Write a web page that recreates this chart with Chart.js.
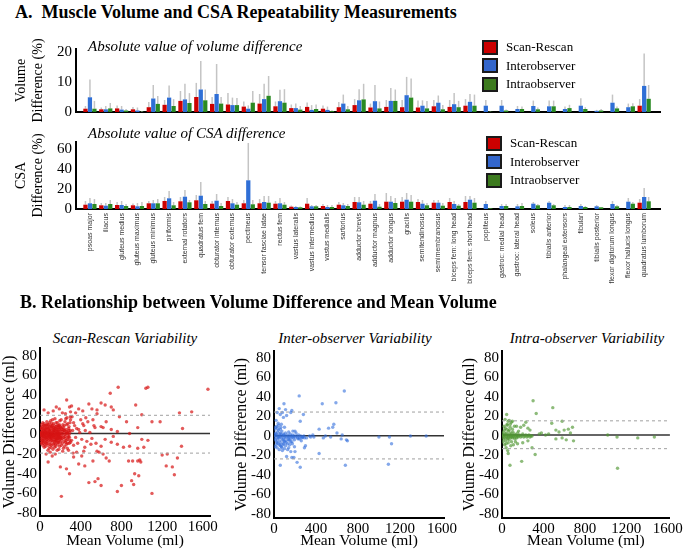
<!DOCTYPE html>
<html>
<head>
<title>Muscle Volume and CSA Repeatability</title>
<style>
    body {
        margin: 0;
        background: #fff;
        font-family: 'Liberation Serif', 'Times New Roman', Times, serif;
        color: #000;
    }
    #page { position: relative; width: 685px; height: 555px; overflow: hidden; }
    .box { position: absolute; }
    .hdr { position: absolute; font-weight: bold; font-size: 18px; line-height: 20px; white-space: nowrap; }
    .sub { position: absolute; font-style: italic; font-size: 15px; line-height: 18px; white-space: nowrap; }
    .legend { position: absolute; font-size: 13px; }
    .legend div { height: 18.6px; display: flex; align-items: center; white-space: nowrap; }
    .legend .sw { width: 12px; height: 11px; border: 2px solid #1a1a1a; margin-right: 8px; }
    .ptitle { position: absolute; font-style: italic; font-size: 15px; line-height: 18px; white-space: nowrap; transform: translateX(-50%); }
</style>
</head>
<body>
<div id="page">
    <div class="hdr" style="left:15px; top:2px;">A.&nbsp; Muscle Volume and CSA Repeatability Measurements</div>

    <div class="box" style="left:0; top:30px;"><canvas id="volChart" width="685" height="95"></canvas></div>
    <div class="box" style="left:0; top:125px;"><canvas id="csaChart" width="685" height="180"></canvas></div>

    <div class="sub" style="left:88px; top:37px;">Absolute value of volume difference</div>
    <div class="sub" style="left:88px; top:124px;">Absolute value of CSA difference</div>

    <div class="legend" style="left:482px; top:38px;">
        <div><span class="sw" style="background:#cc0000"></span>Scan-Rescan</div>
        <div><span class="sw" style="background:#3366cc"></span>Interobserver</div>
        <div><span class="sw" style="background:#3c7a1e"></span>Intraobserver</div>
    </div>
    <div class="legend" style="left:486px; top:134px;">
        <div><span class="sw" style="background:#cc0000"></span>Scan-Rescan</div>
        <div><span class="sw" style="background:#3366cc"></span>Interobserver</div>
        <div><span class="sw" style="background:#3c7a1e"></span>Intraobserver</div>
    </div>

    <div class="hdr" style="left:20px; top:292px;">B. Relationship between Volume Difference and Mean Volume</div>

    <div class="ptitle" style="left:125px; top:329px;">Scan-Rescan Variability</div>
    <div class="ptitle" style="left:355px; top:329px;">Inter-observer Variability</div>
    <div class="ptitle" style="left:587px; top:329px;">Intra-observer Variability</div>

    <div class="box" style="left:0; top:325px;"><canvas id="srChart" width="232" height="230"></canvas></div>
    <div class="box" style="left:232px; top:325px;"><canvas id="interChart" width="228" height="230"></canvas></div>
    <div class="box" style="left:460px; top:325px;"><canvas id="intraChart" width="225" height="230"></canvas></div>
</div>

<script src="https://cdn.jsdelivr.net/npm/chart.js@4.4.1/dist/chart.umd.min.js"></script>
<script>
    // ---- panel A data (percent) ----
    const muscles = ['psoas major', 'iliacus', 'gluteus medius', 'gluteus maximus', 'gluteus minimus',
        'piriformis', 'external rotators', 'quadratus fem', 'obturator internus', 'obturator externus',
        'pectineus', 'tensor fasciae latae', 'rectus fem', 'vastus lateralis', 'vastus intermedius',
        'vastus medialis', 'sartorius', 'adductor brevis', 'adductor magnus', 'adductor longus',
        'gracilis', 'semitendinosus', 'semimembranosus', 'biceps fem: long head', 'biceps fem: short head',
        'popliteus', 'gastroc: medial head', 'gastroc: lateral head', 'soleus', 'tibialis anterior',
        'phalangeal extensors', 'fibulari', 'tibialis posterior', 'flexor digitorum longus',
        'flexor hallucis longus', 'quadratus lumborum'];

    const volScanRescan = [1.1, 0.9, 1.2, 0.9, 1.6, 2.4, 3.7, 5.0, 2.7, 2.5, 1.8, 2.8, 1.9, 1.3, 1.7, 1.1, 1.6, 2.3,
        1.5, 1.7, 1.6, 1.5, 1.9, 1.7, 2.1, null, null, null, null, null, null, null, null, null, null, 2.1];
    const volScanRescanSD = [2, 1.5, 2.2, 1.7, 3.3, 4, 7, 9.7, 5, 6.3, 3.5, 6, 3.5, 2.5, 3.2, 2.2, 3.3, 4.3,
        2.8, 4, 4, 3.8, 4, 4, 4.3, null, null, null, null, null, null, null, null, null, null, 4.3];
    const volInter = [4.9, 0.9, 0.8, 0.5, 4.5, 4.8, 4.2, 7.5, 6.0, 2.3, 1.1, 4.3, 3.6, 1.3, 0.7, 0.7, 2.8, 3.9,
        3.6, 3.7, 5.6, 2.1, 3.1, 2.6, 3.4, 2.1, 2.1, 1.0, 2.0, 1.9, 1.0, 2.1, 0.4, 3.1, 1.6, 8.7];
    const volInterSD = [10.8, 2, 2, 1.5, 9, 8.8, 9.4, 17, 16, 4.8, 2.2, 9.4, 7.4, 2.8, 2.3, 1.8, 5.8, 7.6,
        9, 8, 11.7, 3.9, 5.5, 6.3, 6, 4, 4, 2, 3.8, 3.8, 1.8, 4.6, 0.7, 5.8, 2.8, 19.5];
    const volIntra = [1.1, 1.2, 0.5, 0.1, 2.7, 2.0, 3.0, 3.9, 2.8, 2.3, 3.1, 5.4, 3.1, 0.8, 1.0, 0.3, 0.9, 4.2,
        1.2, 3.7, 4.8, 1.2, 0.9, 1.6, 2.1, 0.1, 0.5, 1.0, 0.9, 1.9, 1.3, 1.0, 0.5, 1.2, 1.9, 4.4];
    const volIntraSD = [3.7, 3, 1, 0.3, 5.3, 4.3, 6.3, 7.5, 5, 4.7, 7, 12, 7.6, 2, 2.5, 0.6, 2, 9.4,
        3.5, 7.5, 11.2, 3.7, 2.3, 3.7, 5.8, 0.2, 0.8, 1.8, 1.5, 3.8, 2.4, 1.6, 1, 1.8, 2.9, 9];

    const csaScanRescan = [4.3, 3.7, 4, 3.7, 5.7, 8, 7.7, 8.7, 5.3, 8, 5.7, 5.7, 5.3, 2.3, 5.3, 3, 4.3, 7,
        5.3, 7.3, 7.3, 7, 6.3, 7, 7, null, null, null, null, null, null, null, null, null, null, 6.3];
    const csaScanRescanSD = [8, 6, 7, 5.5, 8, 12, 12, 14, 8, 12, 9, 10, 8, 3.5, 11, 5, 7, 12,
        8, 16, 12, 10, 9, 11, 13, null, null, null, null, null, null, null, null, null, null, 10];
    const csaInter = [5.7, 3.3, 4, 2.7, 5.7, 10.7, 12.3, 13.3, 8.3, 5.7, 28.7, 7, 5.7, 2, 2.7, 2, 3.7, 6.7,
        8.3, 7.3, 9.3, 5.3, 6.3, 5, 9.3, 5, 3, 2.7, 5.3, 6.3, 2, 3, 2.7, 5, 7.3, 12];
    const csaInterSD = [11, 6, 8, 6, 9, 18, 19, 27, 15, 10, 66, 13, 11, 3, 4, 4, 6, 12,
        15, 13, 16, 9, 9, 8, 13, 8, 5, 5, 7, 8, 4, 5, 4, 8, 11, 21];
    const csaIntra = [5, 5, 3, 3, 5.7, 3.7, 6.7, 5, 3, 4.3, 4.7, 6.3, 4.3, 1.7, 2.7, 2, 3, 4.3,
        2.3, 6, 7.3, 3.7, 3.3, 3.3, 6.3, 0.7, 3, 3, 3.7, 3.7, 2, 2, 1.7, 2.7, 5.3, 7.7];
    const csaIntraSD = [10, 9, 5, 7, 10, 7, 9, 8, 6, 7, 9, 13, 7, 2.5, 4, 4, 5, 8,
        5, 11, 14, 6, 6, 5, 11, 1, 5, 6, 5, 5, 4, 3, 2, 4, 7, 12];

    const volTicks = [0, 10, 20];
    const csaTicks = [0, 20, 40, 60];

    // ---- panel B data: [mean volume ml, volume difference ml] ----
    const scanRescanPts = [
        [10,2],[15,-3],[20,5],[22,-1],[25,8],[28,-6],[30,1],[33,-9],[35,4],[38,-2],[40,11],[42,-4],[45,6],[47,0],
        [50,-7],[52,3],[55,-12],[57,9],[60,-1],[62,5],[65,-5],[67,13],[70,2],[72,-9],[75,7],[77,-3],[80,0],[82,10],
        [85,-6],[87,4],[90,-14],[92,1],[95,8],[97,-2],[100,-8],[102,5],[105,14],[107,-4],[110,2],[112,-11],[115,6],
        [117,-1],[120,9],[122,-6],[125,3],[127,-15],[130,0],[132,11],[135,-3],[137,7],[140,-9],[142,2],[145,-5],
        [147,16],[150,4],[152,-2],[155,-12],[157,8],[160,1],[162,-7],[165,5],[167,-4],[170,12],[172,0],[175,-10],
        [177,6],[180,-2],[182,3],[185,-15],[187,9],[190,-5],[192,1],[195,14],[197,-8],[200,4],[205,-1],[210,-11],
        [215,7],[220,-4],[225,10],[230,-14],[235,2],[240,-7],[245,13],[250,-2],[255,5],[260,-10],[265,17],[270,-5],
        [275,1],[280,-16],[285,8],[290,-3],[295,12],[300,-8],
        [8,-5],[12,7],[18,-8],[24,3],[27,12],[32,-4],[36,9],[41,-13],[44,2],[48,-10],[53,6],[58,-3],[63,10],[68,-7],
        [73,1],[78,-16],[83,5],[88,-1],[93,12],[98,-5],[103,0],[108,-13],[113,8],[118,-3],[123,15],[128,-7],[133,4],
        [138,-1],[143,-13],[148,6],[153,-6],[158,12],[163,-1],[168,-16],[173,3],[178,9],[183,-8],[188,0],[193,-12],
        [198,7],[203,-4],[208,15],[213,-6],[218,1],[223,-17],[228,5],[233,-3],[238,9],[243,-12],[248,0],[253,16],
        [258,-6],[263,3],[268,-14],[273,11],[278,-2],[283,4],[288,-9],[293,2],[298,18],
        [5,0],[9,1],[14,-1],[19,2],[23,-2],[29,0],[34,1],[39,-1],[43,3],[49,-2],[54,1],[59,-1],[64,2],[69,-3],[74,0],
        [79,2],[84,-2],[89,1],[94,-1],[99,3],[104,-3],[109,0],[114,1],[119,-2],[124,0],[129,2],[134,-1],[139,4],
        [144,-3],[149,0],[154,1],[159,-4],[164,3],[169,-1],[174,2],[179,-3],[184,0],[189,5],[194,-2],[199,1],
        [206,-3],[216,3],[226,-1],[236,4],[246,-4],[256,1],[266,2],[276,-3],[286,0],[296,4],
        [6,6],[11,-9],[16,10],[21,-6],[26,-11],[31,6],[37,-7],[46,9],[51,-4],[56,4],[61,-9],[66,7],[71,-5],[76,10],
        [81,-11],[86,7],[91,-3],[96,4],[101,-10],[106,9],[111,-6],[116,11],[121,-4],[126,7],[131,-10],[136,5],
        [141,9],[146,-7],[151,-10],[156,6],[161,-5],[166,9],[171,-8],[176,-4],[181,7],[186,-6],[191,10],[196,-3],
        [201,8],[211,5],[221,-9],[231,7],[241,4],[251,-8],[261,10],[271,-9],[281,6],[291,-6],
        [310,-6],[320,4],[330,-11],[340,9],[350,-3],[360,6],[370,-9],[390,2],[410,-5],[420,11],[430,-17],[445,4],
        [460,-7],[490,2],[510,-4],[530,9],[300,15],[315,18],[325,-19],
        [262,35],[310,29],[290,28],[380,26],[420,24],[480,31],[510,26],[560,25],[600,32],[640,30],[700,28],[720,25],
        [690,42],[768,48],[1040,47],[1060,48],[940,30],[1650,46],[1490,23],[1370,22],[350,22],[560,21],[300,23],
        [160,28],[190,26],[40,25],[80,22],[220,22],[130,24],[250,21],
        [1000,20],[1100,13],[1180,13],[960,7],[850,13],[780,18],[600,8],[620,7],[540,7],[450,17],[470,13],[520,15],
        [400,15],[760,3],[700,5],[650,13],[1400,6],[430,9],[380,5],[330,12],[880,1],
        [1100,-60],[760,-58],[210,-63],[600,-52],[800,-52],[920,-51],[900,-47],[540,-48],[570,-45],[480,-49],
        [930,-40],[970,-42],[1320,-41],[1300,-33],[1240,-32],[1350,-24],[1250,-20],[1200,-21],[990,-28],[980,-26],
        [960,-27],[910,-27],[870,-27],[680,-27],[650,-24],[620,-20],[580,-18],[560,-17],[520,-27],[440,-32],
        [380,-30],[290,-40],[260,-35],[200,-33],[330,-23],[360,-18],[410,-22],[440,-13],[500,-10],[550,-9],
        [600,-12],[700,-8],[760,-10],[820,-13],[880,-12],[960,-14],[1020,-13],[1060,-6],[1000,-5],[720,-2],
        [640,-5],[1390,-12],[80,-28],[120,-22],[60,-20],[150,-20],[100,-18]
    ];
    const interPts = [
        [670,46],[240,41],[460,33],[590,34],[95,33],[50,28],[110,27],[170,26],[160,24],[80,24],[30,24],[60,22],
        [120,21],[90,19],[280,22],[250,15],[20,16],[40,13],[70,12],[15,9],[35,8],[60,7],[100,9],[140,4],[180,5],
        [200,5],[210,3],[430,7],[520,8],[560,9],[570,12],[600,3],[650,1],[370,1],[340,0],[380,-1],[470,-2],[490,0],
        [540,-1],[640,-3],[700,-5],[690,-4],[1000,-1],[1100,-1],[1300,0],[1450,0],[1120,-8],[1090,-29],[680,-30],
        [430,-18],[250,-32],[220,-27],[190,-22],[170,-22],[200,-16],[60,-30],[120,-21],[80,-15],[100,-13],[140,-12],
        [60,-10],[40,-8],[290,-12],[300,-10],[260,-5],[230,-3],[240,-1],[270,-1],[290,-2],[310,-2],[350,-1],
        [5,1],[8,-2],[12,3],[15,-4],[18,0],[22,2],[25,-6],[28,1],[32,-3],[35,4],[38,-1],[42,6],[45,-2],[48,0],
        [52,-5],[55,2],[58,-1],[62,3],[65,-7],[68,1],[72,-2],[75,5],[78,-4],[82,0],[85,-9],[88,2],[92,-3],[95,1],
        [98,-6],[102,0],[105,-2],[110,3],[115,-5],[120,-1],[125,1],[130,-8],[135,-2],[140,0],[145,-4],[150,-1],
        [155,2],[160,-3],[165,0],[170,-6],[175,-1],[180,1],[185,-2],[190,0],[195,-4],[205,-1],[215,0],[225,-2],
        [235,1],[245,-3],[255,0],[265,-2],[275,-1],[285,0],[10,-11],[20,-9],[30,-12],[50,-14],[70,-11],[90,-8],
        [110,-10],[130,-14],[150,-9],[160,-16],[25,10],[45,11],[65,9],[10,7],[30,-7],[55,-9],[75,-12],[95,-5],
        [115,-7],[135,-4],[155,-6],[175,-8],[195,-11]
    ];
    const intraPts = [
        [300,36],[490,29],[330,23],[45,22],[580,15],[480,13],[680,9],[30,17],[60,15],[70,16],[90,14],[100,15],
        [80,12],[50,12],[120,10],[140,10],[180,9],[210,11],[230,14],[250,8],[270,6],[360,2],[380,3],[420,1],
        [450,2],[520,6],[550,4],[600,6],[640,7],[660,3],[520,-3],[580,-2],[620,-4],[690,-5],[1020,1],[1110,-1],
        [1310,-2],[1470,-1],[1115,-33],[77,-30],[190,-26],[320,-19],[290,-12],[60,-18],[55,-15],[40,-12],[110,-9],
        [150,-8],[200,-7],[250,-5],
        [5,2],[8,-1],[12,4],[15,0],[18,-3],[22,1],[25,6],[28,-2],[32,2],[35,-5],[38,0],[42,3],[45,-1],[48,7],
        [52,-3],[55,1],[58,-2],[62,5],[65,0],[68,-4],[72,2],[75,-1],[78,9],[82,0],[85,-2],[88,3],[92,-6],[95,1],
        [98,0],[102,-2],[105,4],[110,0],[115,-1],[120,2],[125,-3],[130,0],[135,1],[140,-2],[145,0],[150,3],
        [155,-1],[160,0],[170,1],[180,-1],[190,0],[200,2],[210,-1],[220,0],[230,1],[240,-1],[250,0],[260,1],
        [270,-1],[280,0],[290,0],[20,10],[30,8],[40,-8],[50,11],[60,-7],[70,6],[85,-10],[100,7],[130,-6],[160,5],
        [10,-6],[25,-9]
    ];

    // [upper limit, mean, lower limit] in ml
    const scanRescanLines = [19.5, 1, -19];
    const interLines = [24.5, 0.3, -23.5];
    const intraLines = [15.5, 1, -13];
    const diffTicks = [-80, -60, -40, -20, 0, 20, 40, 60, 80];
    const meanTicks = [0, 400, 800, 1200, 1600];

    Chart.defaults.font.family = "'Liberation Serif', 'Times New Roman', Times, serif";
    Chart.defaults.color = '#000';
    Chart.defaults.animation = false;

    const RED = '#cc0000', BLUE = '#2f6fd6', GREEN = '#2a8a22';

    // light grey SD whiskers above each bar
    const errorBars = {
        id: 'errorBars',
        beforeDatasetsDraw(chart) {
            const ctx = chart.ctx;
            const y = chart.scales.y;
            chart.data.datasets.forEach((ds, i) => {
                if (!ds.errors) return;
                chart.getDatasetMeta(i).data.forEach((bar, j) => {
                    const v = ds.data[j].y, e = ds.errors[j];
                    if (v == null || e == null) return;
                    ctx.save();
                    ctx.strokeStyle = '#c4c4c4';
                    ctx.lineWidth = 1.5;
                    ctx.beginPath();
                    ctx.moveTo(bar.x, y.getPixelForValue(v));
                    ctx.lineTo(bar.x, y.getPixelForValue(e));
                    ctx.stroke();
                    ctx.restore();
                });
            });
        }
    };

    function toXY(values) {
        return values.map((v, i) => ({x: i, y: v}));
    }

    function barChart(id, sets, yMax, yTicks, yTitle, showLabels, xHeight, padTop) {
        const colors = [RED, BLUE, GREEN];
        return new Chart(document.getElementById(id), {
            type: 'bar',
            data: {
                datasets: sets.map((s, k) => ({
                    data: toXY(s[0]),
                    errors: s[1],
                    backgroundColor: colors[k],
                    categoryPercentage: 0.85,
                    barPercentage: 0.95
                }))
            },
            options: {
                responsive: false,
                layout: {padding: {top: padTop, right: 25, left: 0, bottom: 0}},
                plugins: {legend: {display: false}, tooltip: {enabled: false}},
                scales: {
                    x: {
                        type: 'linear',
                        offset: false,
                        min: -0.88,
                        max: 36.0,
                        afterBuildTicks: s => { s.ticks = muscles.map((m, i) => ({value: i})); },
                        afterFit: s => { s.height = xHeight; },
                        grid: {display: false, drawTicks: false},
                        border: {color: '#000', width: 2},
                        ticks: {
                            display: showLabels,
                            autoSkip: false,
                            minRotation: 90,
                            maxRotation: 90,
                            padding: 4,
                            color: '#333',
                            font: {family: "'Liberation Sans', Arial, sans-serif", size: 7},
                            callback: v => muscles[v]
                        }
                    },
                    y: {
                        min: 0,
                        max: yMax,
                        afterBuildTicks: s => { s.ticks = yTicks.map(v => ({value: v})); },
                        afterFit: s => { s.width = 76; },
                        grid: {display: false, drawTicks: false},
                        border: {color: '#000', width: 2},
                        ticks: {padding: 4, autoSkip: false, font: {size: 15}},
                        title: {display: true, text: yTitle, font: {size: 14}, padding: {top: 13, bottom: 0}}
                    }
                }
            },
            plugins: [errorBars]
        });
    }

    barChart('volChart', [[volScanRescan, volScanRescanSD], [volInter, volInterSD], [volIntra, volIntraSD]],
        21, volTicks, ['Volume', 'Difference (%)'], false, 7, 19);
    barChart('csaChart', [[csaScanRescan, csaScanRescanSD], [csaInter, csaInterSD], [csaIntra, csaIntraSD]],
        67, csaTicks, ['CSA', 'Difference (%)'], true, 96, 17);

    function scatterChart(id, pts, lines, color, xMax, yMin, yMax, padTop, padRight, yWidth, xHeight) {
        const ref = (v, c, dash, w) => ({
            type: 'line',
            data: [{x: 0, y: v}, {x: xMax, y: v}],
            borderColor: c,
            borderWidth: w,
            borderDash: dash,
            pointRadius: 0
        });
        return new Chart(document.getElementById(id), {
            type: 'scatter',
            data: {
                datasets: [
                    ref(lines[0], '#a0a0a0', [3, 3], 1),
                    ref(lines[2], '#a0a0a0', [3, 3], 1),
                    {
                        data: pts.map(p => ({x: p[0], y: p[1]})),
                        backgroundColor: color,
                        borderWidth: 0,
                        pointRadius: 1.7
                    },
                    ref(lines[1], '#333333', [], 1.5)
                ]
            },
            options: {
                responsive: false,
                layout: {padding: {top: padTop, right: padRight, left: 0, bottom: 0}},
                plugins: {legend: {display: false}, tooltip: {enabled: false}},
                scales: {
                    x: {
                        type: 'linear',
                        min: 0,
                        max: xMax,
                        afterBuildTicks: s => { s.ticks = meanTicks.map(v => ({value: v})); },
                        afterFit: s => { s.height = xHeight; },
                        grid: {display: false, drawTicks: false},
                        border: {color: '#000', width: 2},
                        ticks: {padding: 2, autoSkip: false, maxRotation: 0, font: {size: 15}, callback: v => String(v)},
                        title: {display: true, text: 'Mean Volume (ml)', font: {size: 15.5}, padding: {top: 0, bottom: 5}}
                    },
                    y: {
                        min: yMin,
                        max: yMax,
                        afterBuildTicks: s => { s.ticks = diffTicks.map(v => ({value: v})); },
                        afterFit: s => { s.width = yWidth; },
                        grid: {display: false, drawTicks: false},
                        border: {color: '#000', width: 2},
                        ticks: {padding: 3, autoSkip: false, font: {size: 15}, callback: v => String(v)},
                        title: {display: true, text: 'Volume Difference (ml)', font: {size: 16}, padding: {top: 0, bottom: 0}}
                    }
                }
            }
        });
    }

    scatterChart('srChart', scanRescanPts, scanRescanLines, 'rgba(215,20,20,0.7)', 1670, -83, 88, 23, 22, 40, 39);
    scatterChart('interChart', interPts, interLines, 'rgba(50,110,220,0.6)', 1620, -84, 87, 26, 16, 42, 37);
    scatterChart('intraChart', intraPts, intraLines, 'rgba(80,150,50,0.65)', 1620, -84, 87, 26, 15, 42, 37);
</script>
</body>
</html>
